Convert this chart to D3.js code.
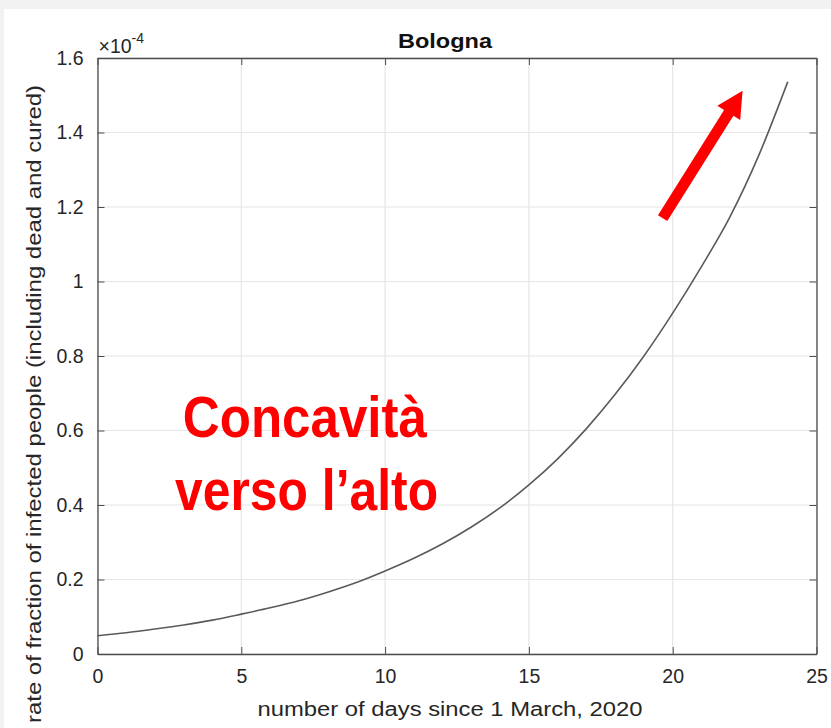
<!DOCTYPE html>
<html>
<head>
<meta charset="utf-8">
<script src="https://cdn.jsdelivr.net/npm/d3@7"></script>
<style>
  body { margin: 0; background: #f2f2f2; }
  svg { display: block; }
  text { font-family: "Liberation Sans", Arial, Helvetica, sans-serif; }
</style>
</head>
<body>
<svg id="chart"></svg>
<script>
// data (rate in units of 1e-4)
var days = [0,1,2,3,4,5,6,7,8,9,10,11,12,13,14,15,16,17,18,19,20,21,22,23,24]
var rate = [0.049,0.057,0.067,0.078,0.091,0.107,0.124,0.143,0.166,0.192,0.223,0.257,0.296,0.341,0.393,0.454,0.524,0.605,0.697,0.800,0.915,1.040,1.175,1.340,1.536]
var xTicks = [0,5,10,15,20,25]
var yTicks = [0,0.2,0.4,0.6,0.8,1,1.2,1.4,1.6]
var yTickLabels = ["0","0.2","0.4","0.6","0.8","1","1.2","1.4","1.6"]
var exponentLabel = "-4"
var titleText = "Bologna"
var xLabelText = "number of days since 1 March, 2020"
var yLabelText = "rate of fraction of infected people (including dead and cured)"
var noteLines = ["Concavità", "verso l\u2019alto"]

var screen = {width:831, height:728}
var margins = {top:58, right:14.5, bottom:74, left:97.5}
var width = screen.width - margins.left - margins.right
var height = screen.height - margins.top - margins.bottom

var svg = d3.select("#chart")
    .attr("width", screen.width)
    .attr("height", screen.height)

// white panel over grey page
svg.append("rect")
    .attr("x", 4).attr("y", 9)
    .attr("width", screen.width - 4).attr("height", screen.height - 9)
    .attr("fill", "#ffffff")

var xScale = d3.scaleLinear().domain([0,25]).range([0,width])
var yScale = d3.scaleLinear().domain([0,1.6]).range([height,0])

var g = svg.append("g")
    .attr("transform","translate("+margins.left+","+margins.top+")")

// grid
g.append("g").selectAll("line").data(xTicks).enter().append("line")
    .attr("x1", function(d){return xScale(d)}).attr("x2", function(d){return xScale(d)})
    .attr("y1", 0).attr("y2", height)
    .attr("stroke", "#e6e6e6").attr("stroke-width", 1.2)
g.append("g").selectAll("line").data(yTicks).enter().append("line")
    .attr("y1", function(d){return yScale(d)}).attr("y2", function(d){return yScale(d)})
    .attr("x1", 0).attr("x2", width)
    .attr("stroke", "#e6e6e6").attr("stroke-width", 1.2)

// axes (ticks inward, box on)
var axisColor = "#4d4d4d"
var xAxis = d3.axisBottom(xScale).tickValues(xTicks).tickSizeInner(-7).tickSizeOuter(0).tickPadding(15)
var yAxis = d3.axisLeft(yScale).tickValues(yTicks).tickSizeInner(-7).tickSizeOuter(0).tickPadding(14)
    .tickFormat(function(d,i){return yTickLabels[i]})

var xg = g.append("g").attr("transform","translate(0,"+height+")").call(xAxis)
var yg = g.append("g").call(yAxis)
var xgTop = g.append("g").call(d3.axisTop(xScale).tickValues(xTicks).tickSizeInner(-7).tickSizeOuter(0).tickFormat(""))
var ygRight = g.append("g").attr("transform","translate("+width+",0)")
    .call(d3.axisRight(yScale).tickValues(yTicks).tickSizeInner(-7).tickSizeOuter(0).tickFormat(""))

;[xg,yg,xgTop,ygRight].forEach(function(a){
    a.selectAll("path").attr("stroke", axisColor).attr("stroke-width", 1.3)
    a.selectAll("line").attr("stroke", axisColor).attr("stroke-width", 1)
    a.selectAll("text")
        .attr("fill", "#262626")
        .style("font-size", "19.5px")
        .style("font-family", "'Liberation Sans', Arial, sans-serif")
})
xg.selectAll("text").attr("dy", "0.71em")

// curve
var lineGenerator = d3.line()
    .x(function(d,i){return xScale(days[i])})
    .y(function(d){return yScale(d)})
    .curve(d3.curveMonotoneX)

g.append("path")
    .datum(rate)
    .attr("d", lineGenerator)
    .attr("fill","none")
    .attr("stroke","#5a5a5a")
    .attr("stroke-width",1.6)

// title and exponent
g.append("text")
    .attr("x", xScale(12.5) - 12).attr("y", -10)
    .attr("text-anchor","middle")
    .attr("font-weight","bold")
    .attr("textLength", 94).attr("lengthAdjust","spacingAndGlyphs")
    .style("font-size","19.5px").attr("fill","#111")
    .text(titleText)

var expo = g.append("text").attr("x", 1).attr("y", -5)
    .style("font-size","19.5px").attr("fill","#262626")
expo.append("tspan").text("\u00d710")
expo.append("tspan").attr("dy",-10).style("font-size","14px").text(exponentLabel)

// axis labels
g.append("text")
    .attr("x", xScale(12.5) - 7).attr("y", height + 62)
    .attr("text-anchor","middle")
    .attr("textLength", 385).attr("lengthAdjust","spacingAndGlyphs")
    .style("font-size","19.5px").attr("fill","#262626")
    .text(xLabelText)

g.append("text")
    .attr("transform","translate(" + (41 - margins.left) + "," + (404 - margins.top) + ") rotate(-90)")
    .attr("text-anchor","middle")
    .attr("textLength", 638).attr("lengthAdjust","spacingAndGlyphs")
    .style("font-size","20px").attr("fill","#262626")
    .text(yLabelText)

// red annotation
var noteX = [7.21, 7.27]
var noteY = [0.5826, 0.3866]
var noteW = [244, 263]
g.selectAll(".note").data(noteLines).enter().append("text")
    .attr("class","note")
    .attr("x", function(d,i){return xScale(noteX[i])})
    .attr("y", function(d,i){return yScale(noteY[i])})
    .attr("text-anchor","middle")
    .attr("font-weight","bold")
    .attr("textLength", function(d,i){return noteW[i]})
    .attr("lengthAdjust","spacingAndGlyphs")
    .style("font-size","58px")
    .attr("fill","#ff0000")
    .text(function(d){return d})

// red arrow (tail and tip in data units)
var arrowTail = [19.65, 1.17]
var arrowTip = [22.43, 1.512]
var tx = xScale(arrowTail[0]), ty = yScale(arrowTail[1])
var hx = xScale(arrowTip[0]), hy = yScale(arrowTip[1])
var len = Math.sqrt((hx-tx)*(hx-tx) + (hy-ty)*(hy-ty))
var ux = (hx-tx)/len, uy = (hy-ty)/len
var px = -uy, py = ux
var shaftHalf = 5.5, headHalf = 13.5, headLen = 26
var bx = hx - ux*headLen, by = hy - uy*headLen
var pts = [
    [tx + px*shaftHalf, ty + py*shaftHalf],
    [bx + px*shaftHalf, by + py*shaftHalf],
    [bx + px*headHalf, by + py*headHalf],
    [hx, hy],
    [bx - px*headHalf, by - py*headHalf],
    [bx - px*shaftHalf, by - py*shaftHalf],
    [tx - px*shaftHalf, ty - py*shaftHalf]
]
g.append("polygon")
    .attr("points", pts.map(function(p){return p.join(",")}).join(" "))
    .attr("fill","#ff0000")
</script>
</body>
</html>
